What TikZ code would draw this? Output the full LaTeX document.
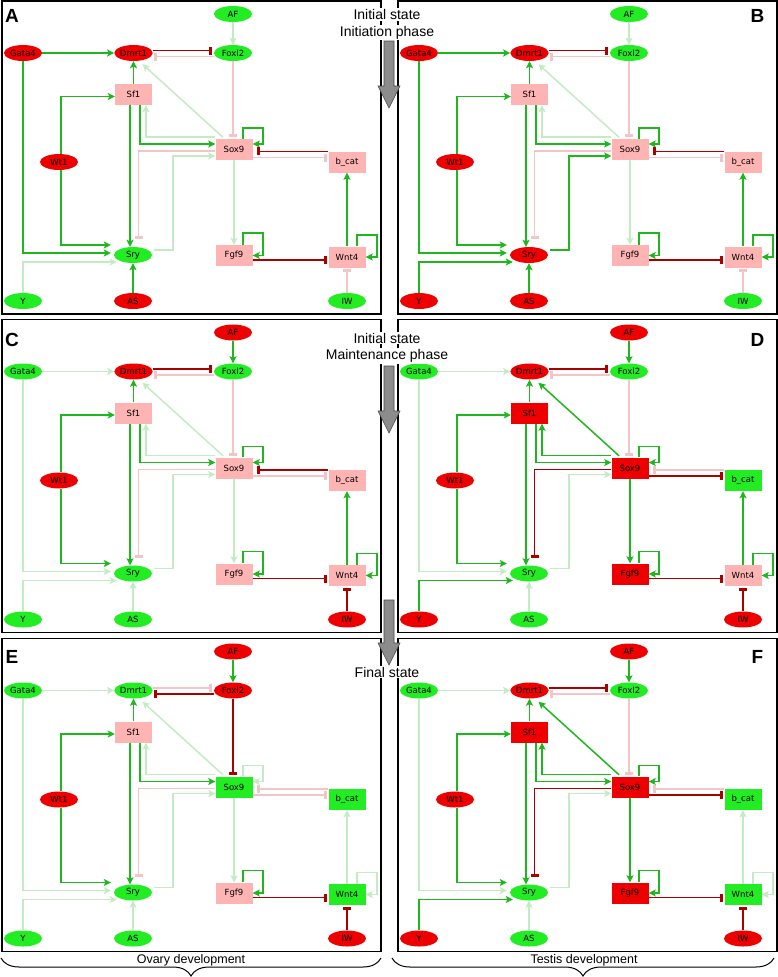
\documentclass[tikz,border=0pt]{standalone}
\usepackage{fontspec}
\setmainfont{Liberation Sans}
\newfontfamily\nodefont{DejaVu Sans}
\usetikzlibrary{shapes.geometric,arrows.meta,decorations.pathreplacing}

\definecolor{nodeR}{RGB}{238,0,0}
\definecolor{nodeG}{RGB}{34,236,34}
\definecolor{nodeP}{RGB}{255,180,180}
\definecolor{lineG}{RGB}{30,184,30}
\definecolor{lineLG}{RGB}{196,236,196}
\definecolor{lineR}{RGB}{170,0,0}
\definecolor{lineP}{RGB}{242,198,198}
\definecolor{arrowgray}{RGB}{140,140,140}

\newcommand\network{%
  \node[sAF] (AF) at (233,14) {AF};
  \node[sGata4] (Gata4) at (23,53) {Gata4};
  \node[sDmrt1] (Dmrt1) at (133.5,53) {Dmrt1};
  \node[sFoxl2] (Foxl2) at (233,53) {Foxl2};
  \node[sSf1] (Sf1) at (133.5,94.5) {Sf1};
  \node[sSox9] (Sox9) at (234,149.5) {Sox9};
  \node[sbcat] (bcat) at (347,162) {b\_cat};
  \node[sWt1] (Wt1) at (59,162) {Wt1};
  \node[sSry] (Sry) at (133,255) {Sry};
  \node[sFgf9] (Fgf9) at (234,255.5) {Fgf9};
  \node[sWnt4] (Wnt4) at (347,257) {Wnt4};
  \node[sY] (Y) at (23,301) {Y};
  \node[sAS] (AS) at (133,301) {AS};
  \node[sIW] (IW) at (347,301) {IW};
  % edges
  \draw[act,eAFFox] (AF) -- (Foxl2);
  \draw[act,eGatDm] (Gata4) -- (Dmrt1);
  \draw[inh,eDmFox] ([yshift=2.5pt]Dmrt1.east) -- ([yshift=2.5pt]Foxl2.west);
  \draw[inh,eFoxDm] ([yshift=-3.5pt]Foxl2.west) -- ([yshift=-3.5pt]Dmrt1.east);
  \draw[act,eSfDm] (Sf1) -- (Dmrt1);
  \draw[act,eSoxDm] ([xshift=-11pt,yshift=1.5pt]Sox9.north) -- ([xshift=9pt,yshift=-3pt]Dmrt1.south);
  \draw[inh,eFoxSox] (Foxl2) -- (Foxl2 |- Sox9.north);
  \draw[act,eWtSf] ([xshift=2pt]Wt1.north) |- ([yshift=-2pt]Sf1.west);
  \draw[act,eSfSox] ([xshift=6.5pt]Sf1.south) |- ([yshift=5.5pt]Sox9.west);
  \draw[act,eSoxSf] ([yshift=2pt]Sox9.north west) -| ([xshift=12.5pt]Sf1.south);
  \draw[act,eSoxSelf] ([xshift=9pt]Sox9.north) -- ++(0,-11) -- ++(20,0) |- ([yshift=5.5pt]Sox9.east);
  \draw[inh,eBcSox,shorten >=4pt] (bcat.north west) -- (bcat.north west -| Sox9.east);
  \draw[inh,eSoxBc] ([yshift=-8pt]Sox9.east) -- ([yshift=4.5pt]bcat.west);
  \draw[act,eSfSry] ([xshift=-3.5pt]Sf1.south) -- ([xshift=-3pt]Sry.north);
  \draw[inh,eSoxSry] ([yshift=-1.5pt]Sox9.west) -| ([xshift=5.5pt,yshift=6pt]Sry.north);
  \draw[act,eSrySox] ([xshift=2pt,yshift=5pt]Sry.east) -- ++(19,0) |- ([yshift=-6.5pt]Sox9.west);
  \draw[act,eWtSry] ([xshift=2pt]Wt1.south) |- ([xshift=-3pt,yshift=10pt]Sry.west);
  \draw[act,eGatSry] (Gata4.south) |- ([xshift=-3pt,yshift=2pt]Sry.west);
  \draw[act,eYSry] (Y.north) |- ([xshift=3pt,yshift=-7pt]Sry.west);
  \draw[act,eASSry] (AS) -- (Sry);
  \draw[act,eSoxFgf] (Sox9) -- (Fgf9);
  \draw[act,eFgfSelf] ([xshift=9pt]Fgf9.north) -- ++(0,-12) -- ++(20,0) |- (Fgf9.east);
  \draw[inh,eFgfWnt] ([yshift=-4.5pt]Fgf9.east) -- ([yshift=-3pt]Wnt4.west);
  \draw[act,eWntBc] (Wnt4) -- (bcat);
  \draw[act,eWntSelf] ([xshift=10pt]Wnt4.north) -- ++(0,-11.5) -- ++(20,0) |- (Wnt4.east);
  \draw[inh,eIWWnt] (IW) -- (Wnt4);
  \draw[pframe] (2,1) rectangle (381,314);
}

\newcommand\garrow[2]{%
  \fill[arrowgray, draw=gray!55!black, line width=0.6pt]
    (384,#1) -- (394,#1) -- (394,{#2-22}) -- (400,{#2-22})
    -- (389,#2) -- (378,{#2-22}) -- (384,{#2-22}) -- cycle;
}

\begin{document}
\begin{tikzpicture}[x=1pt,y=-1pt,
  lbl/.style={font=\nodefont\fontsize{8.5}{9}\selectfont, text=black},
  ell/.style={lbl, ellipse, minimum width=38pt, minimum height=16pt, inner sep=0pt},
  bx/.style={lbl, rectangle, minimum width=37pt, minimum height=21pt, inner sep=0pt},
  ellR/.style={ell, fill=nodeR}, ellG/.style={ell, fill=nodeG},
  boxP/.style={bx, fill=nodeP}, boxR/.style={bx, fill=nodeR}, boxG/.style={bx, fill=nodeG},
  gOn/.style={draw=lineG}, gOff/.style={draw=lineLG},
  rOn/.style={draw=lineR}, rOff/.style={draw=lineP},
  act/.style={line width=1.5pt, -{Stealth[length=7pt,width=7pt,inset=1.5pt]}},
  inh/.style={line width=1.5pt, -{Rectangle[length=3pt,width=8pt]}, shorten >=1.5pt},
  pframe/.style={draw=black, line width=1.3pt},
  midtxt/.style={font=\fontsize{14}{16}\selectfont, fill=white, inner sep=1pt},
  plet/.style={font=\bfseries\fontsize{19}{20}\selectfont, inner sep=0pt},
  devtxt/.style={font=\fontsize{12.5}{14}\selectfont, inner sep=0pt},
  devbrace/.style={decorate, decoration={brace, mirror, amplitude=18pt}, line width=1pt},
  % default states (panel A)
  sAF/.style=ellG, sGata4/.style=ellR, sDmrt1/.style=ellR, sFoxl2/.style=ellG,
  sSf1/.style=boxP, sSox9/.style=boxP, sbcat/.style=boxP, sWt1/.style=ellR,
  sSry/.style=ellG, sFgf9/.style=boxP, sWnt4/.style=boxP, sY/.style=ellG,
  sAS/.style=ellR, sIW/.style=ellG,
  eAFFox/.style=gOff, eGatDm/.style=gOn, eDmFox/.style=rOn, eFoxDm/.style=rOff,
  eSfDm/.style=gOn, eSoxDm/.style=gOff, eFoxSox/.style=rOff, eWtSf/.style=gOn,
  eSfSox/.style=gOn, eSoxSf/.style=gOff, eSoxSelf/.style=gOn, eBcSox/.style=rOn,
  eSoxBc/.style=rOff, eSfSry/.style=gOn, eSoxSry/.style=rOff, eSrySox/.style=gOff,
  eWtSry/.style=gOn, eGatSry/.style=gOn, eYSry/.style=gOff, eASSry/.style=gOn,
  eSoxFgf/.style=gOff, eFgfSelf/.style=gOn, eFgfWnt/.style=rOn, eWntBc/.style=gOn,
  eWntSelf/.style=gOn, eIWWnt/.style=rOff]

\useasboundingbox[fill=white] (0,0) rectangle (778,977);

% Panel A
\begin{scope}[name prefix=A-]
  \network
\end{scope}
% Panel B
\begin{scope}[shift={(396,0)}, name prefix=B-,
  sSry/.style=ellR, sY/.style=ellR, eSrySox/.style=gOn, eYSry/.style=gOn]
  \network
\end{scope}
% Panel C
\begin{scope}[shift={(0,318.5)}, name prefix=C-,
  sAF/.style=ellR, sGata4/.style=ellG, sAS/.style=ellG, sIW/.style=ellR,
  eAFFox/.style=gOn, eGatDm/.style=gOff, eGatSry/.style=gOff, eASSry/.style=gOff,
  eIWWnt/.style=rOn]
  \network
\end{scope}
% Panel D
\begin{scope}[shift={(396,318.5)}, name prefix=D-,
  sAF/.style=ellR, sGata4/.style=ellG, sSf1/.style=boxR, sSox9/.style=boxR,
  sbcat/.style=boxG, sFgf9/.style=boxR, sY/.style=ellR, sAS/.style=ellG, sIW/.style=ellR,
  eAFFox/.style=gOn, eGatDm/.style=gOff, eSoxDm/.style=gOn, eSoxSf/.style=gOn,
  eBcSox/.style=rOff, eSoxBc/.style=rOn, eSoxSry/.style=rOn, eGatSry/.style=gOff,
  eYSry/.style=gOn, eASSry/.style=gOff, eSoxFgf/.style=gOn, eIWWnt/.style=rOn]
  \network
\end{scope}
% Panel E
\begin{scope}[shift={(0,637.5)}, name prefix=E-,
  sAF/.style=ellR, sGata4/.style=ellG, sDmrt1/.style=ellG, sFoxl2/.style=ellR,
  sSox9/.style=boxG, sbcat/.style=boxG, sWnt4/.style=boxG, sAS/.style=ellG, sIW/.style=ellR,
  eAFFox/.style=gOn, eGatDm/.style=gOff, eDmFox/.style=rOff, eFoxDm/.style=rOn,
  eFoxSox/.style=rOn, eSoxSelf/.style=gOff, eBcSox/.style=rOff, eGatSry/.style=gOff,
  eASSry/.style=gOff, eWntBc/.style=gOff, eWntSelf/.style=gOff, eIWWnt/.style=rOn]
  \network
\end{scope}
% Panel F
\begin{scope}[shift={(396,637.5)}, name prefix=F-,
  sAF/.style=ellR, sGata4/.style=ellG, sSf1/.style=boxR, sSox9/.style=boxR,
  sbcat/.style=boxG, sFgf9/.style=boxR, sWnt4/.style=boxG, sY/.style=ellR,
  sAS/.style=ellG, sIW/.style=ellR,
  eAFFox/.style=gOn, eGatDm/.style=gOff, eSoxDm/.style=gOn, eSoxSf/.style=gOn,
  eBcSox/.style=rOff, eSoxBc/.style=rOn, eSoxSry/.style=rOn, eGatSry/.style=gOff,
  eYSry/.style=gOn, eASSry/.style=gOff, eSoxFgf/.style=gOn, eWntBc/.style=gOff,
  eWntSelf/.style=gOff, eIWWnt/.style=rOn]
  \network
\end{scope}

% panel letters
\node[plet] (LA) at (12,16) {A};
\node[plet] (LB) at (757.5,16) {B};
\node[plet] (LC) at (12,339.5) {C};
\node[plet] (LD) at (757.5,339.5) {D};
\node[plet] (LE) at (12,656.5) {E};
\node[plet] (LF) at (757.5,656.5) {F};

% phase labels and arrows
\node[midtxt] (t1) at (387,14.5) {Initial state};
\node[midtxt] (t2) at (387,32.5) {Initiation phase};
\garrow{41}{108}
\node[midtxt] (t3) at (387,338) {Initial state};
\node[midtxt] (t4) at (387,356) {Maintenance phase};
\garrow{366}{433}
\garrow{600}{665}
\node[midtxt] (t5) at (387,672) {Final state};

% braces
\draw[devbrace] (1,958) -- (381,958);
\node[devtxt] (ovary) at (191,960) {Ovary development};
\draw[devbrace] (392,958) -- (774,958);
\node[devtxt] (testis) at (584,960) {Testis development};
\end{tikzpicture}
\end{document}
